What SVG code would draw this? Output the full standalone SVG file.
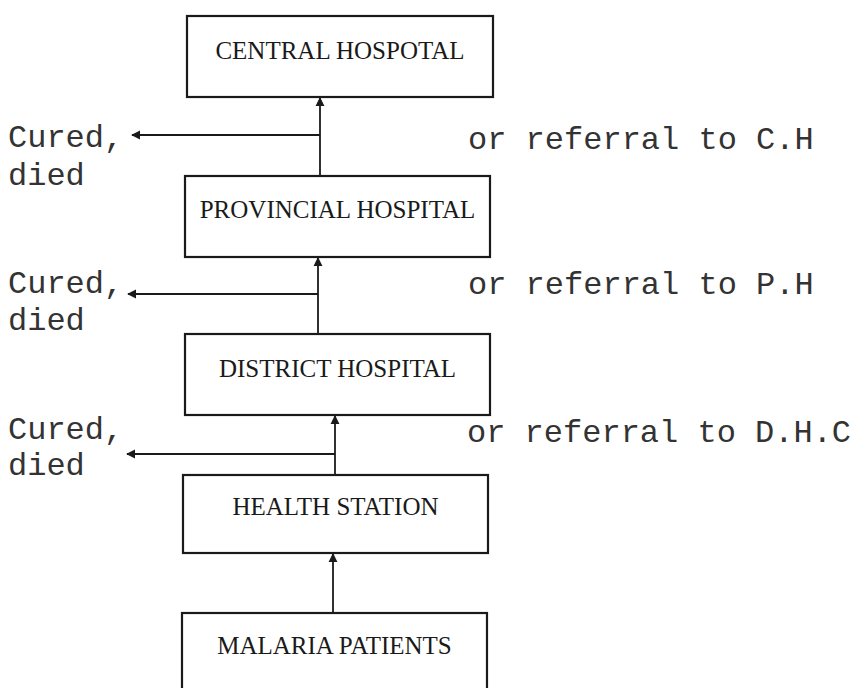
<svg xmlns="http://www.w3.org/2000/svg" width="856" height="688" viewBox="0 0 856 688">
  <style>
    .box { fill: #ffffff; stroke: #1a1a1a; stroke-width: 2.2; }
    .label { font-family: "Liberation Serif", "Times New Roman", serif; font-size: 25px; fill: #1a1a1a; text-anchor: middle; }
    .note { font-family: "Liberation Mono", "Courier New", monospace; font-size: 32px; fill: #333333; }
    .link { fill: none; stroke: #1a1a1a; stroke-width: 1.8; }
  </style>
  <defs>
    <marker id="arrow" viewBox="0 0 10 10" refX="9" refY="5" markerWidth="9" markerHeight="10" markerUnits="userSpaceOnUse" orient="auto">
      <path d="M0,0 L10,5 L0,10 Z" fill="#1a1a1a"/>
    </marker>
  </defs>
  <rect width="856" height="688" fill="#ffffff"/>

  <!-- connectors: upward referrals and leftward outcomes -->
  <g id="connectors">
    <path class="link" d="M320,176 L320,98" marker-end="url(#arrow)"/>
    <path class="link" d="M320,135 L132,135" marker-end="url(#arrow)"/>
    <path class="link" d="M318,334 L318,258" marker-end="url(#arrow)"/>
    <path class="link" d="M318,294 L128,294" marker-end="url(#arrow)"/>
    <path class="link" d="M335,475 L335,416" marker-end="url(#arrow)"/>
    <path class="link" d="M335,454 L127,454" marker-end="url(#arrow)"/>
    <path class="link" d="M333,613 L333,554" marker-end="url(#arrow)"/>
  </g>

  <!-- nodes -->
  <g id="central-hospital">
    <rect class="box" x="187" y="16" width="306" height="81"/>
    <text class="label" x="340" y="59">CENTRAL HOSPOTAL</text>
  </g>
  <g id="provincial-hospital">
    <rect class="box" x="185" y="176" width="305" height="81"/>
    <text class="label" x="337.5" y="218">PROVINCIAL HOSPITAL</text>
  </g>
  <g id="district-hospital">
    <rect class="box" x="185" y="334" width="305" height="81"/>
    <text class="label" x="337.5" y="377">DISTRICT HOSPITAL</text>
  </g>
  <g id="health-station">
    <rect class="box" x="183" y="475" width="305" height="78"/>
    <text class="label" x="335.5" y="515">HEALTH STATION</text>
  </g>
  <g id="malaria-patients">
    <rect class="box" x="182" y="613" width="305" height="90"/>
    <text class="label" x="334.5" y="654">MALARIA PATIENTS</text>
  </g>

  <!-- outcome notes -->
  <g id="outcomes">
    <text class="note" x="8" y="147">Cured,</text>
    <text class="note" x="8" y="185">died</text>
    <text class="note" x="8" y="293">Cured,</text>
    <text class="note" x="8" y="330">died</text>
    <text class="note" x="8" y="439">Cured,</text>
    <text class="note" x="8" y="475">died</text>
  </g>
  <g id="referrals">
    <text class="note" x="468" y="149">or referral to C.H</text>
    <text class="note" x="468" y="294">or referral to P.H</text>
    <text class="note" x="467" y="442">or referral to D.H.C</text>
  </g>
</svg>
